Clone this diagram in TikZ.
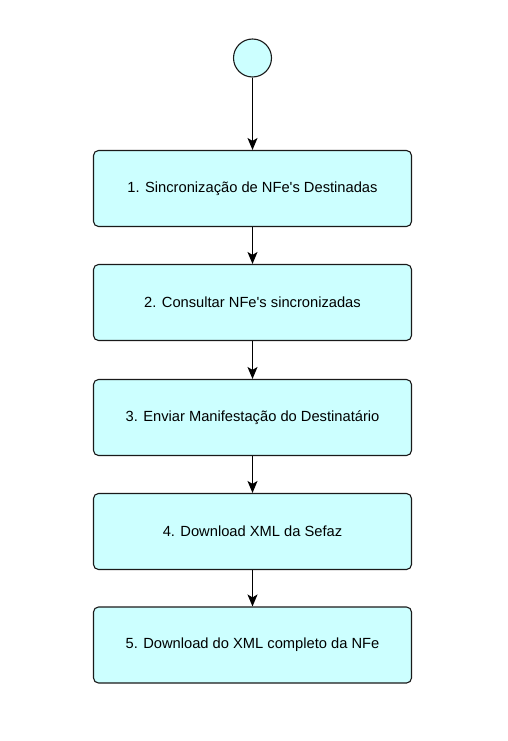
\documentclass[tikz,border=0pt]{standalone}
\usepackage{fontspec}
\setmainfont{Liberation Sans}
\usetikzlibrary{arrows.meta}
\definecolor{boxfill}{HTML}{CCFFFF}
\definecolor{boxline}{HTML}{1A1A1A}
\begin{document}
\begin{tikzpicture}[x=1pt,y=-1pt,
  stepbox/.style={draw=boxline, fill=boxfill, line width=1.1pt, rounded corners=5pt,
    minimum width=318pt, minimum height=76pt, inner sep=0pt,
    font=\fontsize{14.7}{17}\selectfont},
  startnode/.style={draw=boxline, fill=boxfill, line width=1.1pt, circle, minimum size=38pt, inner sep=0pt},
  conn/.style={draw=black, line width=1.1pt, -{Stealth[length=12pt,width=10pt,inset=3pt]}}]
\useasboundingbox (0,0) rectangle (507,741);
\node[startnode] (s) at (252.5,58) {};
\node[stepbox] (b1) at (252.5,188.5) {1. Sincronização de NFe\textquotesingle s Destinadas};
\node[stepbox] (b2) at (252.5,302.5) {2. Consultar NFe\textquotesingle s sincronizadas};
\node[stepbox] (b3) at (252.5,417.5) {3. Enviar Manifestação do Destinatário};
\node[stepbox] (b4) at (252.5,531.5) {4. Download XML da Sefaz};
\node[stepbox] (b5) at (252.5,645) {5. Download do XML completo da NFe};
\draw[conn] (s) -- (b1);
\draw[conn] (b1) -- (b2);
\draw[conn] (b2) -- (b3);
\draw[conn] (b3) -- (b4);
\draw[conn] (b4) -- (b5);
\end{tikzpicture}
\end{document}
